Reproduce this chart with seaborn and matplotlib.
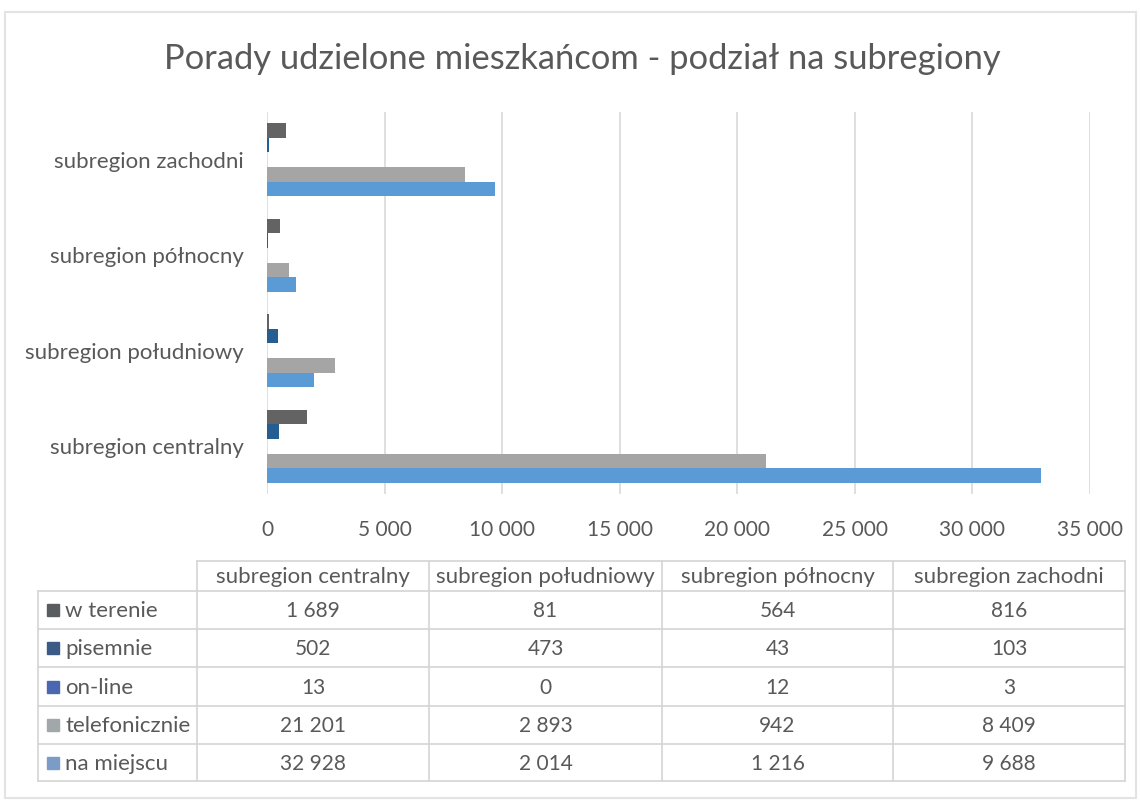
import pandas as pd
import seaborn as sns
import matplotlib.pyplot as plt
from matplotlib.patches import Rectangle

# data
regions = ["subregion centralny", "subregion południowy", "subregion północny", "subregion zachodni"]
series = ["w terenie", "pisemnie", "on-line", "telefonicznie", "na miejscu"]
w_terenie = [1689, 81, 564, 816]
pisemnie = [502, 473, 43, 103]
on_line = [13, 0, 12, 3]
telefonicznie = [21201, 2893, 942, 8409]
na_miejscu = [32928, 2014, 1216, 9688]
colors = ["#636363", "#255E91", "#4472C4", "#A5A5A5", "#5B9BD5"]
key_colors = ["#595d60", "#3b5a85", "#4a68b0", "#a2a8aa", "#7a9cc6"]

values = [w_terenie, pisemnie, on_line, telefonicznie, na_miejscu]
rows = []
for s, vals in zip(series, values):
    for r, v in zip(regions, vals):
        rows.append({"region": r, "rodzaj": s, "liczba": v})
df = pd.DataFrame(rows)

sns.set_style("white")
plt.rcParams["font.family"] = ["Lato", "DejaVu Sans"]
text_col = "#595959"
grid_col = "#D9D9D9"

W, H = 1141, 805
fig = plt.figure(figsize=(W / 100, H / 100), dpi=100)

def box(x0, y0, x1, y1):
    return [x0 / W, 1 - y1 / H, (x1 - x0) / W, (y1 - y0) / H]

ax = fig.add_axes(box(267, 112, 1090, 494))
sns.barplot(
    data=df, y="region", x="liczba", hue="rodzaj",
    order=regions[::-1], hue_order=series, palette=colors,
    orient="h", width=0.76, saturation=1, linewidth=0, ax=ax, legend=False,
)
ax.set_xlim(0, 35000)
ticks = list(range(0, 35001, 5000))
ax.set_xticks(ticks)
ax.set_xticklabels([f"{t:,}".replace(",", " ") for t in ticks])
ax.xaxis.grid(True, color=grid_col, linewidth=1.2)
ax.set_axisbelow(True)
for sp in ax.spines.values():
    sp.set_visible(False)
ax.tick_params(axis="x", length=0, labelsize=15, labelcolor=text_col, pad=19)
ax.tick_params(axis="y", length=0, labelsize=16, labelcolor=text_col, pad=17)
ax.set_xlabel("")
ax.set_ylabel("")

fig.text(582 / W, 1 - 59 / H, "Porady udzielone mieszkańcom - podział na subregiony",
         ha="center", va="center", fontsize=24.8, color=text_col)

# data table under the chart, drawn in pixel coordinates
tab = fig.add_axes([0, 0, 1, 1])
tab.set_xlim(0, W)
tab.set_ylim(H, 0)
tab.axis("off")
tab.patch.set_alpha(0)

tab.add_patch(Rectangle((5, 12), 1131, 786, fill=False, edgecolor="#E3E3E3", linewidth=1.5))

col_x = [38, 197, 429, 662, 893, 1125]
row_y = [561, 591, 629, 667, 706, 744, 781]
lc = "#D4D4D4"
# horizontal lines
tab.plot([col_x[1], col_x[-1]], [row_y[0], row_y[0]], color=lc, lw=1.2)
for y in row_y[1:]:
    tab.plot([col_x[0], col_x[-1]], [y, y], color=lc, lw=1.2)
# vertical lines
tab.plot([col_x[0], col_x[0]], [row_y[1], row_y[-1]], color=lc, lw=1.2)
for x in col_x[1:]:
    tab.plot([x, x], [row_y[0], row_y[-1]], color=lc, lw=1.2)

for j, r in enumerate(regions):
    tab.text((col_x[j + 1] + col_x[j + 2]) / 2, (row_y[0] + row_y[1]) / 2 + 1, r,
             ha="center", va="center", fontsize=16, color=text_col)

for i, (s, vals) in enumerate(zip(series, values)):
    yc = (row_y[i + 1] + row_y[i + 2]) / 2
    tab.add_patch(Rectangle((47, yc - 6), 12, 12, color=key_colors[i]))
    tab.text(65, yc + 1, s, ha="left", va="center", fontsize=16, color=text_col)
    for j, v in enumerate(vals):
        tab.text((col_x[j + 1] + col_x[j + 2]) / 2, yc + 1, f"{v:,}".replace(",", " "),
                 ha="center", va="center", fontsize=15, color=text_col)

fig.savefig("out.png", dpi=100, facecolor="white")
